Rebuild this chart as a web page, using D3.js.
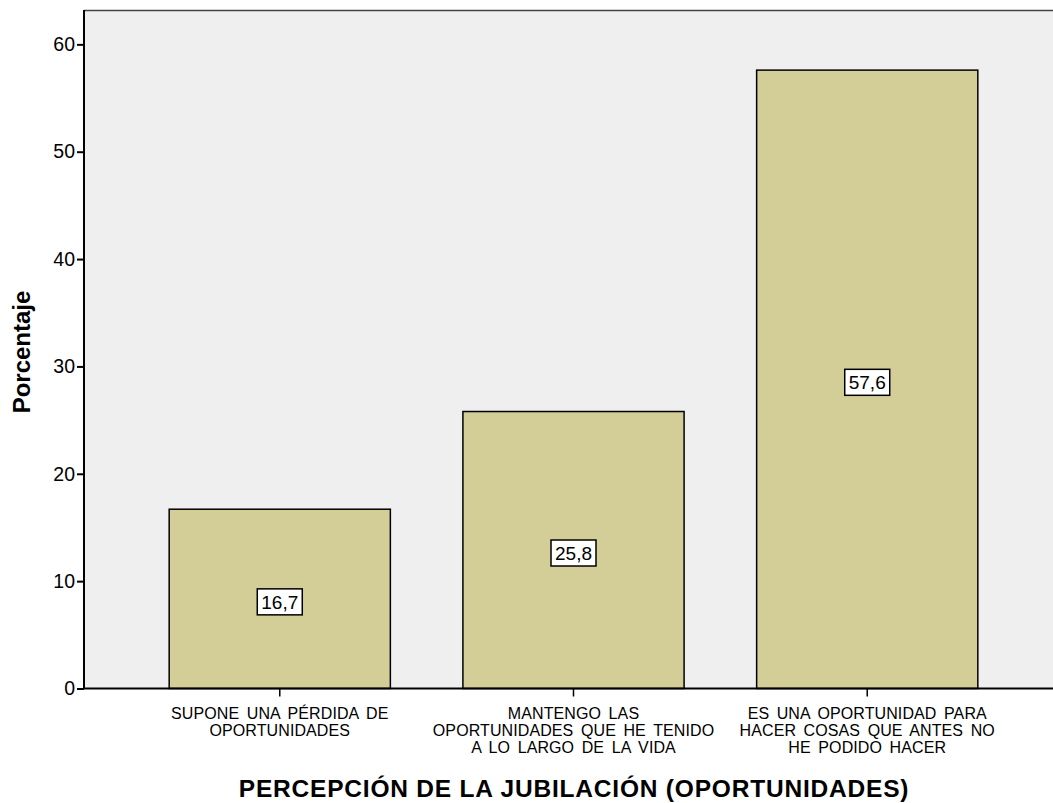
<!DOCTYPE html>
<html><head><meta charset="utf-8">
<script src="https://cdn.jsdelivr.net/npm/d3@7"></script>
<style>body{margin:0;background:#fff;} svg{display:block;}</style>
</head><body>
<svg id="c" width="1053" height="803"></svg>
<script>
const categories = ["SUPONE UNA PÉRDIDA DE OPORTUNIDADES", "MANTENGO LAS OPORTUNIDADES QUE HE TENIDO A LO LARGO DE LA VIDA", "ES UNA OPORTUNIDAD PARA HACER COSAS QUE ANTES NO HE PODIDO HACER"];
const categoryLines = [["SUPONE UNA PÉRDIDA DE", "OPORTUNIDADES"], ["MANTENGO LAS", "OPORTUNIDADES QUE HE TENIDO", "A LO LARGO DE LA VIDA"], ["ES UNA OPORTUNIDAD PARA", "HACER COSAS QUE ANTES NO", "HE PODIDO HACER"]];
const values = [16.7, 25.8, 57.6];
const valueLabels = ["16,7", "25,8", "57,6"];
const yTicks = [0, 10, 20, 30, 40, 50, 60];
const xTitle = "PERCEPCIÓN DE LA JUBILACIÓN (OPORTUNIDADES)";
const yTitle = "Porcentaje";

const svg = d3.select("#c");
const L = 84, R = 1063, T = 10, B = 688.5;
const font = "Arial, 'Liberation Sans', sans-serif";

const x = d3.scaleBand().domain(categories).range([L, R]).paddingInner(0.247).paddingOuter(0.29);
const y = d3.scaleLinear().domain([0, 63.2]).range([B, T]);

svg.append("rect").attr("x", L).attr("y", T).attr("width", R - L).attr("height", B - T)
  .attr("fill", "#efefef");
svg.append("line").attr("x1", L).attr("x2", R).attr("y1", T + 0.5).attr("y2", T + 0.5)
  .attr("stroke", "#444").attr("stroke-width", 1.5);

svg.selectAll("rect.bar").data(values).enter().append("rect")
  .attr("class", "bar")
  .attr("x", (d, i) => x(categories[i]))
  .attr("y", d => y(d))
  .attr("width", x.bandwidth())
  .attr("height", d => B - y(d))
  .attr("fill", "#d3ce98").attr("stroke", "#000").attr("stroke-width", 1.5);

// Y axis
const yAxis = d3.axisLeft(y).tickValues(yTicks).tickSize(7).tickPadding(2);
const gy = svg.append("g").attr("transform", `translate(${L},0)`).call(yAxis);
gy.select(".domain").attr("stroke", "#000").attr("stroke-width", 2).attr("d", `M0,${B}V${T}`);
gy.selectAll(".tick line").attr("stroke", "#000").attr("stroke-width", 2);
gy.selectAll(".tick text").attr("font-family", font).attr("font-size", 19.5).attr("fill", "#000");

// X axis
const xAxis = d3.axisBottom(x).tickSize(8).tickFormat("");
const gx = svg.append("g").attr("transform", `translate(0,${B})`).call(xAxis);
gx.select(".domain").attr("stroke", "#000").attr("stroke-width", 2).attr("d", `M${L},0H${R}`);
gx.selectAll(".tick line").attr("stroke", "#000").attr("stroke-width", 1.5);

categoryLines.forEach((lines, i) => {
  const cx = x(categories[i]) + x.bandwidth() / 2;
  const t = svg.append("text").attr("x", cx).attr("y", 719).attr("text-anchor", "middle")
    .attr("font-family", font).attr("font-size", 16).attr("letter-spacing", 0.1)
    .attr("word-spacing", 3).attr("fill", "#000");
  lines.forEach((ln, j) => t.append("tspan").attr("x", cx).attr("dy", j === 0 ? 0 : 17).text(ln));
});

// Value labels
values.forEach((v, i) => {
  const cx = x(categories[i]) + x.bandwidth() / 2;
  const cy = y(v / 2) + 3;
  svg.append("rect").attr("x", cx - 22.5).attr("y", cy - 13).attr("width", 45).attr("height", 26)
    .attr("fill", "#fff").attr("stroke", "#000").attr("stroke-width", 1.5);
  svg.append("text").attr("x", cx).attr("y", cy + 7).attr("text-anchor", "middle")
    .attr("font-family", font).attr("font-size", 19).attr("fill", "#000").text(valueLabels[i]);
});

svg.append("text").attr("x", 574).attr("y", 797).attr("text-anchor", "middle")
  .attr("font-family", font).attr("font-size", 24.5).attr("letter-spacing", 0.8)
  .attr("font-weight", "bold").text(xTitle);
svg.append("text").attr("transform", "translate(30,352) rotate(-90)").attr("text-anchor", "middle")
  .attr("font-family", font).attr("font-size", 24).attr("font-weight", "bold").text(yTitle);
</script>
</body></html>
